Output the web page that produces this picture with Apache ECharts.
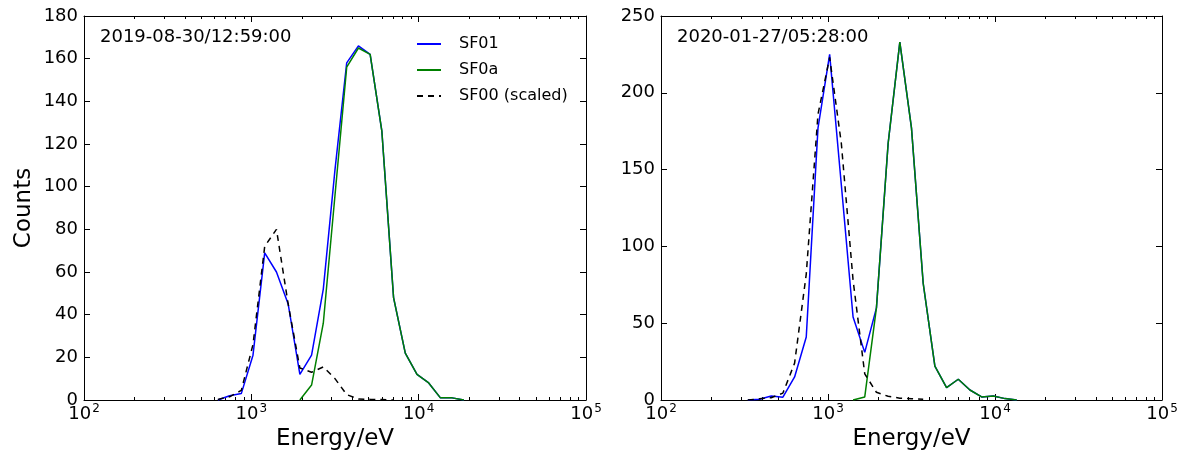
<!DOCTYPE html>
<html>
<head>
<meta charset="utf-8">
<script src="https://cdn.jsdelivr.net/npm/echarts@6/dist/echarts.min.js"></script>
<style>html,body{margin:0;padding:0;background:#fff}#c{width:1188px;height:464px}</style>
</head>
<body>
<div id="c"></div>
<script>
// Energy bins (eV)
const energy = [331, 389, 457, 537, 631, 741, 871, 1023, 1202, 1413, 1660, 1950, 2291, 2692, 3162, 3715, 4365, 5129, 6026, 7079, 8318, 9772, 11482, 13490, 15849, 18621];

// Left panel: 2019-08-30/12:59:00
const leftSF01 = [null, null, null, null, 0, 2, 3, 21, 69, 60, 45, 12, 21, 52, 108, 158, 166, 162, 126, 48, 22, 12, 8, 1, 1, 0];
const leftSF0a = [null, null, null, null, null, null, null, null, null, null, null, 0, 7, 36, 96, 156, 165, 162, 126, 48, 22, 12, 8, 1, 1, 0];
const leftSF00 = [null, null, null, null, 0.3, 1.5, 4.5, 26, 72, 80, 45, 15, 13, 15.5, 10, 2.5, 0.5, 0.3, 0.2, 0, null, null, null, null, null, null];

// Right panel: 2020-01-27/05:28:00
const rightSF01 = [0, 0.5, 2.6, 1.8, 15, 41, 177, 225, 140, 54, 31, 60, 167, 233, 177, 76, 22, 8, 13.5, 6.5, 2, 2.6, 0.9, 0, null, null];
const rightSF0a = [null, null, null, null, null, null, null, null, null, 0, 2, 60, 167, 233, 177, 76, 22, 8, 13.5, 6.5, 2, 2.6, 0.9, 0, null, null];
const rightSF00 = [0, 0.8, 1.5, 4.5, 24, 82, 186, 223, 167, 78, 17, 5, 2.4, 1.2, 0.8, 0.5, null, null, null, null, null, null, null, null, null, null];

const seriesNames = ['SF01', 'SF0a', 'SF00 (scaled)'];
const titles = ['2019-08-30/12:59:00', '2020-01-27/05:28:00'];
const minorTicks = [200, 300, 400, 500, 600, 700, 800, 900, 2000, 3000, 4000, 5000, 6000, 7000, 8000, 9000, 20000, 30000, 40000, 50000, 60000, 70000, 80000, 90000];

const FONT = 'DejaVu Sans';
const pair = (xs, ys) => xs.map((x, i) => [x, ys[i]]);

const grids = [
  {left: 84, top: 16, width: 502, height: 384},
  {left: 661, top: 16, width: 501, height: 384}
];
const yMax = [180, 250];
const yInt = [20, 50];

const xAxes = [], yAxes = [];
[0, 1].forEach(g => {
  xAxes.push({
    type: 'log', logBase: 10, gridIndex: g, min: 100, max: 100000, interval: 1,
    position: 'bottom',
    name: 'Energy/eV', nameLocation: 'middle', nameGap: 28,
    nameTextStyle: {fontFamily: FONT, fontSize: 23, color: '#000'},
    axisLine: {show: true, onZero: false, lineStyle: {color: '#000', width: 1}},
    axisTick: {show: true, inside: true, length: 6, lineStyle: {color: '#000'}},
    axisLabel: {
      show: true, margin: 3, showMinLabel: true, showMaxLabel: true,
      formatter: v => '{b|10}{s|' + Math.round(Math.log10(v)) + '}',
      rich: {
        b: {fontFamily: FONT, fontSize: 18, color: '#000', lineHeight: 20, verticalAlign: 'bottom'},
        s: {fontFamily: FONT, fontSize: 12, color: '#000', lineHeight: 12, verticalAlign: 'top', padding: [0, 0, 0, 1]}
      }
    },
    splitLine: {show: false}
  });
  xAxes.push({
    type: 'log', logBase: 10, gridIndex: g, min: 100, max: 100000, interval: 1,
    position: 'top',
    axisLine: {show: true, onZero: false, lineStyle: {color: '#000', width: 1}},
    axisTick: {show: true, inside: true, length: 6, lineStyle: {color: '#000'}},
    axisLabel: {show: false},
    splitLine: {show: false}
  });
  yAxes.push({
    type: 'value', gridIndex: g, min: 0, max: yMax[g], interval: yInt[g], position: 'left',
    name: g === 0 ? 'Counts' : '', nameLocation: 'middle', nameGap: 48,
    nameTextStyle: {fontFamily: FONT, fontSize: 23, color: '#000'},
    axisLine: {show: true, onZero: false, lineStyle: {color: '#000', width: 1}},
    axisTick: {show: true, inside: true, length: 6, lineStyle: {color: '#000'}},
    axisLabel: {show: true, margin: 6, fontFamily: FONT, fontSize: 18, color: '#000'},
    splitLine: {show: false}
  });
  yAxes.push({
    type: 'value', gridIndex: g, min: 0, max: yMax[g], interval: yInt[g], position: 'right',
    axisLine: {show: true, onZero: false, lineStyle: {color: '#000', width: 1}},
    axisTick: {show: true, inside: true, length: 6, lineStyle: {color: '#000'}},
    axisLabel: {show: false},
    splitLine: {show: false}
  });
});

function minorRender(params, api) {
  const cs = params.coordSys;
  const x = Math.round(api.coord([api.value(0), 0])[0]) + 0.5;
  const yb = cs.y + cs.height, yt = cs.y;
  return {
    type: 'group',
    children: [
      {type: 'line', shape: {x1: x, y1: yb, x2: x, y2: yb - 3}, style: {stroke: '#000', lineWidth: 1}},
      {type: 'line', shape: {x1: x, y1: yt, x2: x, y2: yt + 3}, style: {stroke: '#000', lineWidth: 1}}
    ]
  };
}

const colors = ['#0000ff', '#008000', '#000000'];
const panelData = [[leftSF01, leftSF0a, leftSF00], [rightSF01, rightSF0a, rightSF00]];
const series = [];
[0, 1].forEach(g => {
  panelData[g].forEach((vals, k) => {
    series.push({
      type: 'line', name: seriesNames[k], xAxisIndex: g * 2, yAxisIndex: g * 2,
      data: pair(energy, vals), symbol: 'none', showSymbol: false, connectNulls: false,
      color: colors[k],
      lineStyle: {color: colors[k], width: 1.5, type: k === 2 ? [6, 5] : 'solid'},
      z: k === 2 ? 3 : 2 + k * 0.1,
      animation: false
    });
  });
  series.push({
    type: 'custom', xAxisIndex: g * 2, yAxisIndex: g * 2, silent: true, clip: false,
    data: minorTicks.map(v => [v, 0]), renderItem: minorRender, animation: false
  });
});

const chart = echarts.init(document.getElementById('c'), null, {renderer: 'canvas'});
chart.setOption({
  backgroundColor: '#fff',
  animation: false,
  grid: grids,
  xAxis: xAxes,
  yAxis: yAxes,
  legend: {
    data: seriesNames, orient: 'vertical', left: 411, top: 31,
    itemWidth: 24, itemHeight: 14, itemGap: 10,
    itemStyle: {opacity: 0, borderWidth: 0},
    textStyle: {fontFamily: FONT, fontSize: 16, color: '#000', padding: [0, 0, 0, 13]}
  },
  graphic: [
    {type: 'text', left: 100, top: 28, style: {text: titles[0], font: '18px "DejaVu Sans"', fill: '#000'}},
    {type: 'text', left: 677, top: 28, style: {text: titles[1], font: '18px "DejaVu Sans"', fill: '#000'}}
  ],
  series: series
});
</script>
</body>
</html>
